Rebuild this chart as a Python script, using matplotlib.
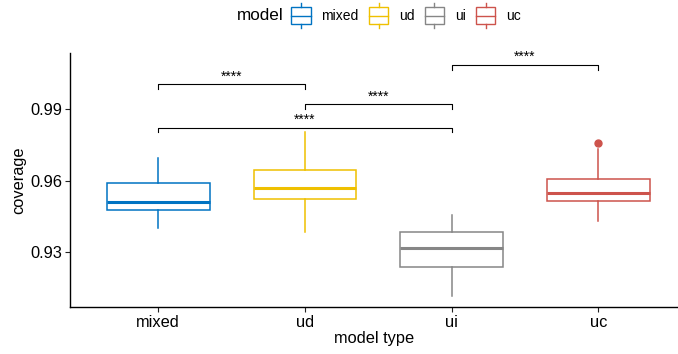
import matplotlib
matplotlib.use("Agg")
import matplotlib.pyplot as plt
from matplotlib.patches import Patch, Rectangle
from matplotlib.lines import Line2D
from matplotlib.legend_handler import HandlerBase

plt.rcParams['font.family'] = ['Liberation Sans', 'DejaVu Sans']

# data
models = ["mixed", "ud", "ui", "uc"]
colors = ["#0073C2", "#EFC000", "#868686", "#CD534C"]
whis_lo = [0.9400, 0.9387, 0.9118, 0.9432]
q1 = [0.9478, 0.9524, 0.9237, 0.9516]
med = [0.9510, 0.9569, 0.9317, 0.9548]
q3 = [0.9590, 0.9646, 0.9387, 0.9607]
whis_hi = [0.9695, 0.9807, 0.9457, 0.9733]
outliers = [[], [], [], [0.9761]]

# significance brackets: (group a, group b, level, label)
pairs = [(1, 2), (2, 3), (1, 3), (3, 4)]
bracket_y = [1.0006, 0.9922, 0.9824, 1.0087]
sig_labels = ["****", "****", "****", "****"]


class BoxHandler(HandlerBase):
    # small boxplot glyph for the legend
    def create_artists(self, legend, orig_handle, xdescent, ydescent,
                       width, height, fontsize, trans):
        c = orig_handle.get_edgecolor()
        x0, y0 = -xdescent, -ydescent
        h = 18.4
        yb = y0 + height / 2 - h / 2
        rect = Rectangle((x0, yb + 0.17 * h), width, 0.66 * h,
                         facecolor="white", edgecolor=c, lw=1.0, transform=trans)
        mid = Line2D([x0, x0 + width], [yb + 0.5 * h] * 2, color=c, lw=1.0, transform=trans)
        w1 = Line2D([x0 + width / 2] * 2, [yb, yb + 0.17 * h], color=c, lw=1.0, transform=trans)
        w2 = Line2D([x0 + width / 2] * 2, [yb + 0.83 * h, yb + h], color=c, lw=1.0, transform=trans)
        return [rect, mid, w1, w2]


fig = plt.figure(figsize=(6.78, 3.54), dpi=100)
ax = fig.add_axes([0.1032, 0.132, 0.8968, 0.7174])

for i in range(len(models)):
    st = [dict(med=med[i], q1=q1[i], q3=q3[i], whislo=whis_lo[i],
               whishi=whis_hi[i], fliers=outliers[i])]
    c = colors[i]
    ax.bxp(st, positions=[i + 1], widths=0.7, showcaps=False, patch_artist=True,
           boxprops=dict(facecolor="white", edgecolor=c, lw=1.1),
           medianprops=dict(color=c, lw=2.2),
           whiskerprops=dict(color=c, lw=1.1),
           flierprops=dict(marker="o", markerfacecolor=c, markeredgecolor=c, markersize=5))

tick = 0.002
for (a, b), yb, lab in zip(pairs, bracket_y, sig_labels):
    ax.plot([a, a, b, b], [yb - tick, yb, yb, yb - tick], color="black", lw=0.8)
    ax.text((a + b) / 2, yb + 0.0003, lab, ha="center", va="bottom", fontsize=10)

ax.set_xlim(0.398, 4.543)
ax.set_ylim(0.9069, 1.0136)
ax.set_xticks(range(1, 5))
ax.set_xticklabels(models)
ax.set_yticks([0.93, 0.96, 0.99])
ax.set_yticklabels(["0.93", "0.96", "0.99"])
ax.tick_params(labelsize=11.8, length=3.5, width=0.8, colors="#222222", labelcolor="black", pad=2)
for s in ["top", "right"]:
    ax.spines[s].set_visible(False)
for s in ["left", "bottom"]:
    ax.spines[s].set_linewidth(1.0)
ax.set_xlabel("model type", fontsize=11.8, labelpad=1)
ax.set_ylabel("coverage", fontsize=11.8, labelpad=3)

handles = [Patch(facecolor="white", edgecolor=c) for c in colors]
fig.text(237 / 678, 1 - 16 / 354, "model", fontsize=12.3, va="center", ha="left")
fig.legend(handles, models, handler_map={Patch: BoxHandler()}, loc="center",
           bbox_to_anchor=(406 / 678, 1 - 16.5 / 354), ncol=4, frameon=False,
           fontsize=10, handlelength=1.4, handletextpad=0.75, columnspacing=0.75,
           borderpad=0, borderaxespad=0)

fig.savefig("out.png", dpi=100)
